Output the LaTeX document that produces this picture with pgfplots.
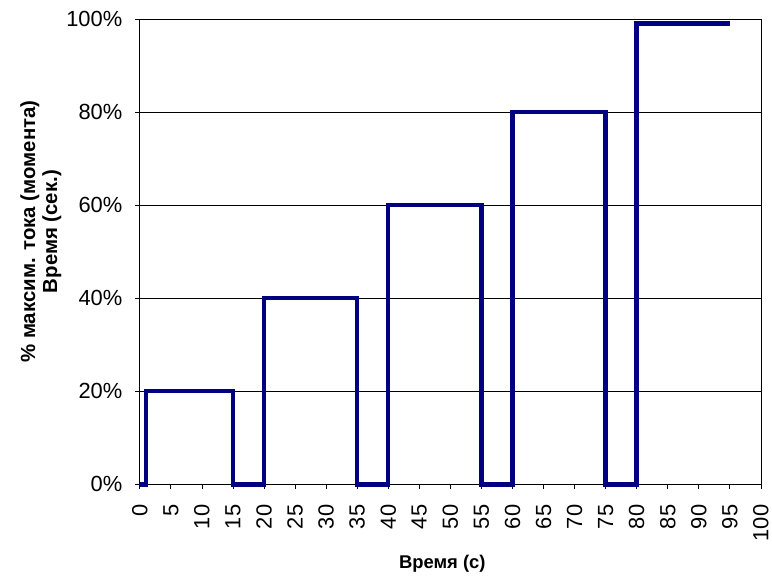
\documentclass[border=0pt]{standalone}
\usepackage{pgfplots}
\pgfplotsset{compat=1.18}
\usepackage{fontspec}
\setmainfont{Liberation Sans}
\definecolor{navyline}{RGB}{0,0,128}
\begin{document}
\begin{tikzpicture}
\begin{axis}[
  scale only axis,
  width=622bp, height=466bp,
  xmin=0, xmax=100, ymin=0, ymax=100,
  xtick={0,5,...,100},
  ytick={0,20,...,100},
  yticklabel={\pgfmathprintnumber{\tick}\%},
  /pgf/number format/assume math mode=true,
  tick label style={font=\fontsize{22}{24}\selectfont},
  xticklabel style={yshift=-3bp, rotate=90, anchor=east},
  yticklabel style={xshift=-3bp},
  xticklabel shift=9bp,
  yticklabel shift=6bp,
  tick align=outside,
  tick pos=left,
  major tick length=5bp,
  ymajorgrids,
  grid style={black, line width=0.6pt},
  axis line style={black, line width=0.8pt},
  tick style={black, line width=0.8pt},
  xlabel={\bfseries Время (с)},
  xlabel style={font=\fontsize{18.5}{20}\selectfont, at={(axis description cs:0.487,0)}, anchor=north, yshift=-67bp},
  ylabel={\bfseries\begin{tabular}{@{}c@{}}\% максим. тока (момента)\\[-2bp]Время (сек.)\end{tabular}},
  ylabel style={font=\fontsize{20.5}{24}\selectfont, at={(axis description cs:-0.116,0.543)}, anchor=south},
  clip=false,
]
\addplot[navyline, line width=4.5pt, line join=miter] coordinates {
(0,0)(1,0)(1,20)(15,20)(15,0)(20,0)(20,40)(35,40)(35,0)(40,0)(40,60)(55,60)(55,0)(60,0)(60,80)(75,80)(75,0)(80,0)(80,99)(95,99)
};
\end{axis}
\path (current axis.south west) ++(-140bp,-90bp) rectangle ++(772bp,575bp);
\end{tikzpicture}
\end{document}
